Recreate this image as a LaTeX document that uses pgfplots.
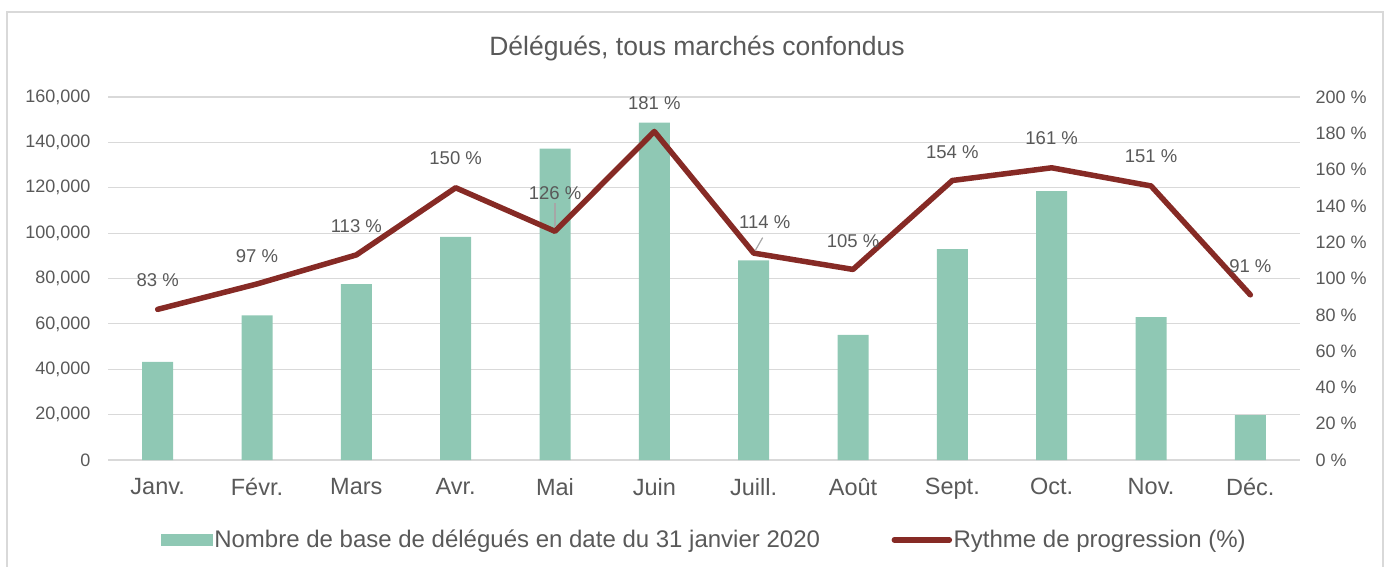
\documentclass[border=0pt]{standalone}
\usepackage{fontspec}
\setmainfont{Liberation Sans}
\usepackage{pgfplots}
\pgfplotsset{compat=1.18}
\usepackage{pgfplotstable}

\definecolor{barc}{HTML}{8FC8B4}
\definecolor{linec}{HTML}{862A25}
\definecolor{txt}{HTML}{595959}
\definecolor{grd}{HTML}{D9D9D9}

\pgfplotsset{/pgf/number format/assume math mode=true}

\pgfplotstableread{
x base
0 43300
1 63700
2 77500
3 98300
4 137300
5 148700
6 88000
7 55100
8 93000
9 118500
10 63000
11 19800
}\basetab

\pgfplotstableread{
x rate dx dy
0 83 0 29
1 97 0 28
2 113 0 29
3 150 0 30
4 126 0 38
5 181 0 28
6 114 11 31
7 105 0 28
8 154 0 28
9 161 0 30
10 151 0 30
11 91 0 29
}\ratetab

\begin{document}
\begin{tikzpicture}[x=1bp,y=1bp]
\useasboundingbox (0,0) rectangle (1387,-567);
\draw[grd, line width=1.2bp] (7,-12) rectangle (1383,-620);
\node[text=txt, font=\fontsize{26.5bp}{30bp}\selectfont] at (697,-48) {Délégués, tous marchés confondus};

\begin{axis}[
  at={(108bp,-460bp)}, anchor=south west,
  scale only axis, width=1192bp, height=363bp,
  xmin=-0.5, xmax=11.5, ymin=0, ymax=160000,
  xtick={0,...,11},
  xticklabels={Janv.,Févr.,Mars,Avr.,Mai,Juin,Juill.,Août,Sept.,Oct.,Nov.,Déc.},
  ytick={0,20000,...,160000},
  scaled y ticks=false,
  /pgf/number format/.cd, fixed, 1000 sep={,}, /pgfplots/.cd,
  ymajorgrids, grid style={grd, line width=1.2bp},
  axis x line*=bottom, axis y line*=left,
  x axis line style={grd, line width=1.2bp, -},
  y axis line style={draw=none},
  major tick length=0pt,
  tick style={draw=none},
  yticklabel style={text=txt, font=\fontsize{18bp}{20bp}\selectfont, anchor=east, xshift=-14bp},
  xticklabel style={text=txt, font=\fontsize{23.5bp}{26bp}\selectfont, anchor=north, yshift=-15bp},
  legend columns=2,
  legend style={at={(0.5,-0.22)}, anchor=center, draw=none, fill=none,
    font=\fontsize{24bp}{27bp}\selectfont, text=txt,
    nodes={inner sep=1.5bp},
    /tikz/every even column/.append style={column sep=70bp}},
  legend cell align=left,
]
\addplot[ybar, bar width=31bp, fill=barc, draw=none,
  legend image code/.code={\fill[barc] (0bp,-6bp) rectangle (52bp,6bp);}]
  table[x=x, y=base] {\basetab};
\addlegendentry{Nombre de base de délégués en date du 31 janvier 2020}
\addlegendimage{legend image code/.code={\draw[linec, line width=5.5bp, line cap=round] (2bp,0bp) -- (57bp,0bp);}}
\addlegendentry{Rythme de progression (\%)}
\end{axis}

\begin{axis}[
  at={(108bp,-460bp)}, anchor=south west,
  scale only axis, width=1192bp, height=363bp,
  xmin=-0.5, xmax=11.5, ymin=0, ymax=200,
  axis x line=none, axis y line*=right,
  y axis line style={draw=none},
  ytick={0,20,...,200},
  yticklabel={\pgfmathprintnumber{\tick}~\%},
  major tick length=0pt,
  tick style={draw=none},
  yticklabel style={text=txt, font=\fontsize{18bp}{20bp}\selectfont, anchor=west, xshift=12bp},
  clip=false,
]
\addplot[linec, line width=5.5bp, line join=round, line cap=round,
  point meta=explicit,
  visualization depends on={\thisrow{dx} \as \dx},
  visualization depends on={\thisrow{dy} \as \dy},
  nodes near coords={\pgfmathprintnumber{\pgfplotspointmeta}~\%},
  every node near coord/.append style={anchor=center, xshift=\dx*1bp, yshift=\dy*1bp,
    text=txt, font=\fontsize{18.5bp}{20bp}\selectfont}]
  table[x=x, y=rate, meta=rate] {\ratetab};
\draw[black!35, line width=1.2bp] (axis cs:4,126) ++(0bp,4bp) -- ++(0bp,24bp);
\draw[black!35, line width=1.2bp] (axis cs:6,114) ++(1.5bp,2.5bp) -- ++(7.5bp,13bp);
\end{axis}
\end{tikzpicture}
\end{document}
